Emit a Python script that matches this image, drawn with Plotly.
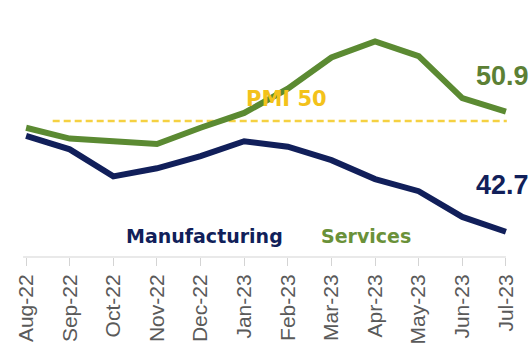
import plotly.graph_objects as go

months = ["Aug-22", "Sep-22", "Oct-22", "Nov-22", "Dec-22", "Jan-23",
          "Feb-23", "Mar-23", "Apr-23", "May-23", "Jun-23", "Jul-23"]
manufacturing = [48.9, 47.9, 45.9, 46.5, 47.4, 48.5, 48.1, 47.1, 45.7, 44.8, 42.9, 41.8]
services = [49.5, 48.7, 48.5, 48.3, 49.5, 50.6, 52.4, 54.7, 55.9, 54.8, 51.7, 50.7]
pmi_threshold = 50
last_manufacturing_label = "42.7"
last_services_label = "50.9"

NAVY = "#111f5a"
GREEN = "#5b8a32"
GOLD = "#f3c21b"

xs = list(range(len(months)))

fig = go.Figure()
fig.add_trace(go.Scatter(x=xs, y=manufacturing, mode="lines",
                         line=dict(color=NAVY, width=6), name="Manufacturing"))
fig.add_trace(go.Scatter(x=xs, y=services, mode="lines",
                         line=dict(color=GREEN, width=6), name="Services"))

# PMI 50 dashed reference
fig.add_shape(type="line", xref="x", yref="y", x0=0.61, x1=11.02,
              y0=pmi_threshold, y1=pmi_threshold, layer="below",
              line=dict(color="#f5d142", width=2.5, dash="7px,4px"))
# x axis line (tick to tick)
fig.add_shape(type="line", xref="x", yref="paper", x0=-0.07, x1=len(months) - 1,
              y0=0, y1=0, line=dict(color="#d4d4d4", width=1.2))

bold = "DejaVu Sans"
fig.add_annotation(x=5.97, y=51.63, text="<b>PMI 50</b>", showarrow=False,
                   font=dict(family=bold, size=21, color=GOLD))
fig.add_annotation(x=10.93, y=53.33, text="<b>%s</b>" % last_services_label, showarrow=False,
                   font=dict(family="Liberation Sans", size=27, color="#5c8035"))
fig.add_annotation(x=10.93, y=45.26, text="<b>%s</b>" % last_manufacturing_label, showarrow=False,
                   font=dict(family="Liberation Sans", size=27, color=NAVY))
fig.add_annotation(x=4.09, y=41.5, text="<b>Manufacturing</b>", showarrow=False,
                   font=dict(family=bold, size=19, color=NAVY))
fig.add_annotation(x=7.8, y=41.5, text="<b>Services</b>", showarrow=False,
                   font=dict(family=bold, size=19, color="#6a9139"))

fig.update_layout(
    width=530, height=349,
    margin=dict(l=13, r=11, t=20, b=92),
    paper_bgcolor="white", plot_bgcolor="white",
    showlegend=False,
    xaxis=dict(range=[-0.3, 11.3], tickmode="array", tickvals=xs, ticktext=months,
               tickangle=-90, showgrid=False, zeroline=False, showline=False,
               automargin=False,
               ticks="outside", ticklen=8, tickcolor="#d4d4d4",
               tickfont=dict(family="Liberation Sans", size=21, color="#5a5a5a")),
    yaxis=dict(range=[39.93, 57.48], showgrid=False, zeroline=False,
               showline=False, showticklabels=False, ticks="", automargin=False),
)

fig.write_html("out.html")
